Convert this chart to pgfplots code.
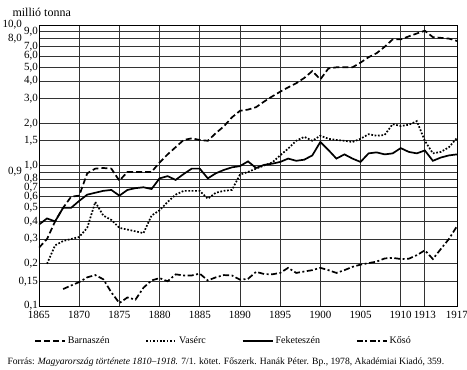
\documentclass[border=0pt]{standalone}
\usepackage{pgfplots}
\pgfplotsset{compat=1.18}
\usepackage{pgfplotstable}
\usepackage{fontspec}
\setmainfont{Liberation Serif}

\pgfplotstableread{
year v
1865 0.26
1866 0.30
1867 0.40
1868 0.50
1869 0.60
1870 0.61
1871 0.88
1872 0.95
1873 0.96
1874 0.95
1875 0.78
1876 0.90
1877 0.90
1878 0.90
1879 0.90
1880 1.05
1881 1.20
1882 1.35
1883 1.52
1884 1.56
1885 1.52
1886 1.50
1887 1.70
1888 1.90
1889 2.20
1890 2.45
1891 2.50
1892 2.60
1893 2.85
1894 3.10
1895 3.35
1896 3.60
1897 3.85
1898 4.20
1899 4.70
1900 4.10
1901 4.90
1902 5.00
1903 5.00
1904 5.00
1905 5.40
1906 5.90
1907 6.30
1908 7.00
1909 7.90
1910 7.90
1911 8.30
1912 8.70
1913 9.10
1914 8.20
1915 8.10
1916 8.00
1917 7.70
}\barna

\pgfplotstableread{
year v
1866 0.20
1867 0.27
1868 0.29
1869 0.30
1870 0.31
1871 0.36
1872 0.55
1873 0.44
1874 0.41
1875 0.36
1876 0.35
1877 0.34
1878 0.33
1879 0.44
1880 0.48
1881 0.55
1882 0.62
1883 0.66
1884 0.66
1885 0.66
1886 0.58
1887 0.64
1888 0.66
1889 0.67
1890 0.86
1891 0.90
1892 0.95
1893 1.00
1894 1.05
1895 1.18
1896 1.32
1897 1.50
1898 1.60
1899 1.50
1900 1.63
1901 1.55
1902 1.52
1903 1.50
1904 1.47
1905 1.55
1906 1.67
1907 1.63
1908 1.65
1909 1.97
1910 1.91
1911 1.95
1912 2.07
1913 1.50
1914 1.22
1915 1.25
1916 1.35
1917 1.57
}\vaserc

\pgfplotstableread{
year v
1865 0.38
1866 0.42
1867 0.40
1868 0.50
1869 0.50
1870 0.56
1871 0.62
1872 0.64
1873 0.66
1874 0.67
1875 0.61
1876 0.67
1877 0.69
1878 0.70
1879 0.68
1880 0.81
1881 0.84
1882 0.79
1883 0.87
1884 0.95
1885 0.95
1886 0.81
1887 0.88
1888 0.93
1889 0.97
1890 0.99
1891 1.07
1892 0.96
1893 1.01
1894 1.03
1895 1.06
1896 1.12
1897 1.08
1898 1.10
1899 1.18
1900 1.47
1901 1.29
1902 1.12
1903 1.20
1904 1.12
1905 1.06
1906 1.22
1907 1.24
1908 1.20
1909 1.22
1910 1.33
1911 1.25
1912 1.22
1913 1.28
1914 1.08
1915 1.14
1916 1.18
1917 1.20
}\fekete

\pgfplotstableread{
year v
1868 0.132
1869 0.140
1870 0.148
1871 0.160
1872 0.166
1873 0.155
1874 0.125
1875 0.105
1876 0.115
1877 0.111
1878 0.135
1879 0.152
1880 0.158
1881 0.150
1882 0.168
1883 0.165
1884 0.165
1885 0.170
1886 0.152
1887 0.160
1888 0.166
1889 0.165
1890 0.154
1891 0.156
1892 0.175
1893 0.169
1894 0.168
1895 0.172
1896 0.187
1897 0.172
1898 0.176
1899 0.180
1900 0.187
1901 0.180
1902 0.172
1903 0.180
1904 0.190
1905 0.197
1906 0.202
1907 0.207
1908 0.218
1909 0.220
1910 0.216
1911 0.217
1912 0.230
1913 0.249
1914 0.216
1915 0.255
1916 0.300
1917 0.370
}\koso

\begin{document}
\begin{tikzpicture}
\path[use as bounding box] (0,0) rectangle (467pt,370pt);
\begin{axis}[
  at={(39pt,64pt)}, anchor=south west,
  scale only axis, width=418pt, height=281pt,
  ymode=log, xmin=1865, xmax=1917, ymin=0.1, ymax=10,
  axis line style={black, line width=0.8pt},
  major tick length=0pt,
  grid=major,
  major grid style={black!80, line width=0.7pt},
  xtick={1865,1870,1875,1880,1885,1890,1895,1900,1905,1910,1913,1917},
  xticklabels={1865,1870,1875,1880,1885,1890,1895,1900,1905,1910,1913,1917},
  ytick={0.1,0.15,0.2,0.3,0.4,0.5,0.6,0.7,0.8,0.9,1,1.5,2,3,4,5,6,7,8,9,10},
  yticklabels={{0,1},{0,15},{0,2},{0,3},{0,4},{0,5},{0,6},{0,7},{0,8},{0,9\hspace*{16pt}},{1,0},{1,5},{2,0},{3,0},{4,0},{5,0},{6,0},{7,0},{8,0\hspace*{16pt}},{9,0},{10,0\hspace*{16pt}}},
  ticklabel style={font=\fontsize{11}{12}\selectfont},
  yticklabel style={inner sep=1pt},
  xticklabel style={yshift=-2pt},
  legend columns=4,
  legend style={at={(-0.012,-0.125)}, anchor=west, draw=none, fill=none,
    font=\fontsize{10}{12}\selectfont, inner sep=0pt,
    /tikz/every even column/.append style={column sep=34pt}},
  legend cell align=left,
  legend image code/.code={\draw[#1] (0pt,0pt) -- (30pt,0pt);},
  every axis plot/.append style={black, line width=1.7pt},
]
\addplot[dash pattern=on 6pt off 3pt] table[x=year,y=v] {\barna};
\addlegendentry{Barnaszén}
\addplot[dash pattern=on 1.7pt off 1.7pt] table[x=year,y=v] {\vaserc};
\addlegendentry{Vasérc}
\addplot[solid] table[x=year,y=v] {\fekete};
\addlegendentry{Feketeszén}
\addplot[dash pattern=on 6pt off 2.5pt on 2pt off 2.5pt] table[x=year,y=v] {\koso};
\addlegendentry{Kősó}
\end{axis}
\node[anchor=west, font=\fontsize{12}{14}\selectfont] at (9pt,358pt) {millió tonna};
\node[anchor=west, font=\fontsize{9.6}{11}\selectfont] at (4pt,8pt) {Forrás: \textit{Magyarország története 1810–1918.} 7/1. kötet. Főszerk. Hanák Péter. Bp., 1978, Akadémiai Kiadó, 359.};
\end{tikzpicture}
\end{document}
